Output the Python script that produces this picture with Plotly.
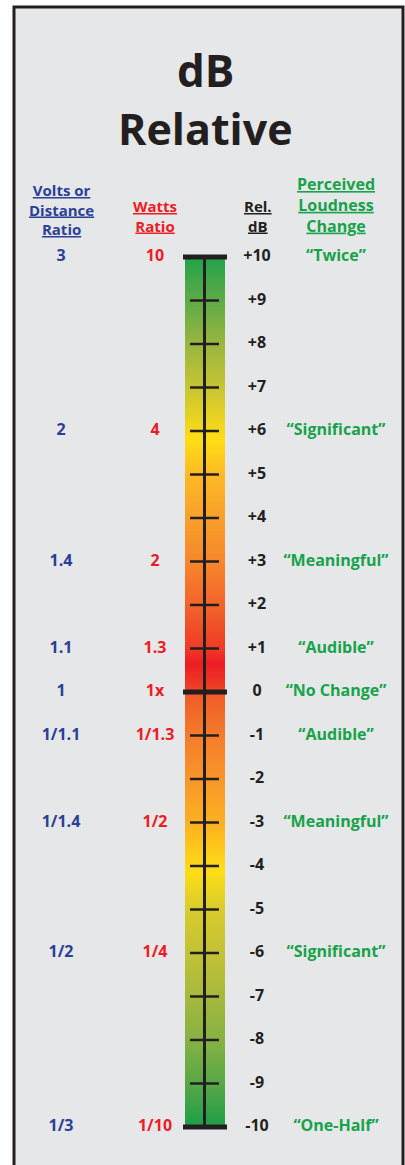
import numpy as np
import plotly.graph_objects as go

# ---- data ----
db_levels = [10, 9, 8, 7, 6, 5, 4, 3, 2, 1, 0, -1, -2, -3, -4, -5, -6, -7, -8, -9, -10]
db_labels = ["+10", "+9", "+8", "+7", "+6", "+5", "+4", "+3", "+2", "+1", "0",
             "-1", "-2", "-3", "-4", "-5", "-6", "-7", "-8", "-9", "-10"]
key_db = [10, 6, 3, 1, 0, -1, -3, -6, -10]
volts_ratio = ["3", "2", "1.4", "1.1", "1", "1/1.1", "1/1.4", "1/2", "1/3"]
watts_ratio = ["10", "4", "2", "1.3", "1x", "1/1.3", "1/2", "1/4", "1/10"]
loudness = ["Twice", "Significant", "Meaningful", "Audible", "No Change",
            "Audible", "Meaningful", "Significant", "One-Half"]

# gradient colour stops along the dB scale
grad_db = [-10, -9, -8, -7, -6, -5, -4.1, -3, -2, -1, -0.02, 0.02, 0.65, 1, 2, 3, 4, 5, 5.8, 7, 8, 9, 10]
grad_col = ["#1c9f48", "#58a746", "#86b242", "#a6b93d", "#c2c235", "#d8cb2d", "#ffdd15",
            "#fcb021", "#f8962a", "#f47c2a", "#f15a29", "#ef4526", "#ed1c24", "#ef3b26",
            "#f2642a", "#f6872b", "#f9a02a", "#fdba24", "#ffdd15", "#c8c433", "#98b63f",
            "#5eab47", "#20a34a"]

# ---- layout helpers ----
W, H = 405, 1165
TOP_PX, BOT_PX = 257, 1127           # pixel rows of +10 and -10
px_per_db = (BOT_PX - TOP_PX) / 20.0
y_top = 10 + TOP_PX / px_per_db
y_bot = -10 - (H - BOT_PX) / px_per_db

def paper_y(px):
    return 1 - px / H

BLUE = "#2b3f96"
RED = "#ed1c24"
GREEN = "#16a34a"
INK = "#231f20"
FONT = "Open Sans"

fig = go.Figure()

# gradient bar
edges = np.linspace(-10, 10, 401)
mids = (edges[:-1] + edges[1:]) / 2
cs = [[(d + 10) / 20, c] for d, c in zip(grad_db, grad_col)]
fig.add_trace(go.Heatmap(
    x=[185, 225], y=edges, z=[[m] for m in mids],
    colorscale=cs, zmin=-10, zmax=10, showscale=False, hoverinfo="skip"))

# minor ticks
minor = [d for d in db_levels if d not in (10, 0, -10)]
tx, ty = [], []
for d in minor:
    tx += [190, 219, None]
    ty += [d, d, None]
fig.add_trace(go.Scatter(x=tx, y=ty, mode="lines",
                         line=dict(color=INK, width=2.5), hoverinfo="skip"))

# center spine
fig.add_trace(go.Scatter(x=[204.5, 204.5], y=[-10, 10], mode="lines",
                         line=dict(color=INK, width=3), hoverinfo="skip"))

# major caps
cx, cy = [], []
for d in (10, 0, -10):
    cx += [183, 227, None]
    cy += [d, d, None]
fig.add_trace(go.Scatter(x=cx, y=cy, mode="lines",
                         line=dict(color=INK, width=5), hoverinfo="skip"))

# labels
def text_col(x, ys, texts, color):
    fig.add_trace(go.Scatter(
        x=[x] * len(ys), y=ys, mode="text", text=texts,
        textposition="middle center",
        textfont=dict(family=FONT, size=16, color=color, weight="bold"),
        hoverinfo="skip"))

text_col(61, key_db, volts_ratio, BLUE)
text_col(155, key_db, watts_ratio, RED)
text_col(257, db_levels, db_labels, INK)
text_col(336, key_db, ["\u201c" + t + "\u201d" for t in loudness], GREEN)

# frame
fig.add_shape(type="rect", xref="x", yref="paper", x0=14, x1=403,
              y0=-0.05, y1=paper_y(7), fillcolor="#e6e7e9",
              line=dict(color=INK, width=3), layer="below")

def ann(x, ypx, text, size, color):
    fig.add_annotation(x=x, xref="x", y=paper_y(ypx), yref="paper", text=text,
                       showarrow=False, xanchor="center", yanchor="middle",
                       font=dict(family=FONT, size=size, color=color, weight="bold"))

ann(205, 70, "dB", 44, INK)
ann(205, 128, "Relative", 43, INK)

ann(61, 209, "<u>Volts or</u><br><u>Distance</u><br><u>Ratio</u>", 15, BLUE)
ann(155, 216, "<u>Watts</u><br><u>Ratio</u>", 15, RED)
ann(258, 216, "<u>Rel.</u><br><u>dB</u>", 15, INK)
ann(336, 205, "<u>Perceived</u><br><u>Loudness</u><br><u>Change</u>", 16, GREEN)

fig.update_layout(
    width=W, height=H, margin=dict(l=0, r=0, t=0, b=0),
    paper_bgcolor="white", plot_bgcolor="rgba(0,0,0,0)",
    showlegend=False,
    xaxis=dict(range=[0, W], visible=False, fixedrange=True),
    yaxis=dict(range=[y_bot, y_top], visible=False, fixedrange=True),
)

fig.write_html("out.html", config={"displayModeBar": False},
               post_script="document.body.style.margin='0';document.body.style.overflow='hidden';")
